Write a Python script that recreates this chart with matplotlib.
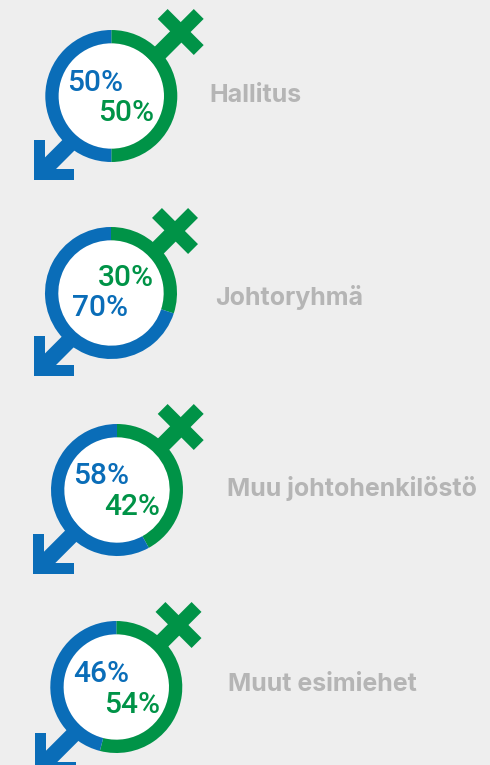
import matplotlib
matplotlib.use("Agg")
import matplotlib.pyplot as plt
from matplotlib.patches import Circle, Polygon

W, H = 490, 765

groups = ["Hallitus", "Johtoryhmä", "Muu johtohenkilöstö", "Muut esimiehet"]
women = [50, 30, 42, 54]
men = [50, 70, 58, 46]

BG = "#EEEEEE"
BLUE = "#0A6DB8"
GREEN = "#009347"
GREY = "#B5B5B5"

# layout in image pixels (y down)
centers = [(111.3, 96), (111, 293), (117, 490), (116.3, 687)]
cross_at = [(180.7, 32), (175, 231), (180.7, 427), (178.5, 625)]
arrow_at = [(33.7, 180), (33.7, 376), (33, 574), (35, 773)]
men_text = [(95, 83), (100, 308), (101.5, 476), (101.5, 674)]
women_text = [(126, 113), (125.5, 278), (132, 507), (132, 705)]
label_at = [(209, 95.5), (215.5, 297.5), (226.5, 488.5), (228, 684.5)]

RADIUS = 66
RING = 13.3
STEM = 16
ARM = 14
ARM_LEN = 25.5
HEAD_W = 11
HEAD_L = 40.5


def ypix(y):
    return H - y


def diag(x, y, dx, dy, half):
    # rectangle around a 45 degree segment, pixel coords
    nx, ny = half * 0.7071, half * 0.7071
    if dx * dy > 0:
        nx = -nx
    return [(x - nx, ypix(y - ny)), (x + nx, ypix(y + ny)),
            (x + dx + nx, ypix(y + dy + ny)), (x + dx - nx, ypix(y + dy - ny))]


def draw_female(ax, center, cross):
    cx, cy = cross
    L = ARM_LEN * 0.7071
    # stem down to the ring
    stem_len = cx - center[0] - 40
    ax.add_patch(Polygon(diag(cx, cy, -stem_len, stem_len, STEM / 2), color=GREEN, lw=0, zorder=1))
    ax.add_patch(Polygon(diag(cx - L, cy - L, 2 * L, 2 * L, ARM / 2), color=GREEN, lw=0, zorder=1))
    ax.add_patch(Polygon(diag(cx, cy, L, -L, ARM / 2), color=GREEN, lw=0, zorder=1))


def draw_male(ax, center, tip):
    tx, ty = tip
    stem_len = center[0] - tx - 44
    ax.add_patch(Polygon(diag(tx + 9, ty - 9, stem_len, -stem_len, STEM / 2), color=BLUE, lw=0, zorder=1))
    ax.add_patch(Polygon([(tx, ypix(ty)), (tx, ypix(ty - HEAD_L)), (tx + HEAD_W, ypix(ty - HEAD_L)),
                          (tx + HEAD_W, ypix(ty - HEAD_W)), (tx + HEAD_L, ypix(ty - HEAD_W)),
                          (tx + HEAD_L, ypix(ty))], color=BLUE, lw=0, zorder=1))


fig = plt.figure(figsize=(W / 100, H / 100), dpi=100, facecolor=BG)
ax = fig.add_axes([0, 0, 1, 1])
ax.set_facecolor(BG)

for i, name in enumerate(groups):
    cx, cy = centers[i]
    draw_female(ax, centers[i], cross_at[i])
    draw_male(ax, centers[i], arrow_at[i])

    ax.add_patch(Circle((cx, ypix(cy)), RADIUS - RING, color="white", lw=0, zorder=2))
    wedges, _ = ax.pie([women[i], men[i]], colors=[GREEN, BLUE], center=(cx, ypix(cy)), radius=RADIUS,
                       startangle=90, counterclock=False,
                       wedgeprops={"width": RING, "linewidth": 0})
    for w in wedges:
        w.set_zorder(3)

    ax.text(men_text[i][0], ypix(men_text[i][1]), f"{men[i]}%", color=BLUE, family="Roboto",
            fontsize=21.5, fontweight="medium", ha="center", va="center", zorder=4)
    ax.text(women_text[i][0], ypix(women_text[i][1]), f"{women[i]}%", color=GREEN, family="Roboto",
            fontsize=21.5, fontweight="medium", ha="center", va="center", zorder=4)
    ax.text(label_at[i][0], ypix(label_at[i][1]), name, color=GREY, family="Inter",
            fontsize=18, fontweight="bold", ha="left", va="center", zorder=4)

ax.set_xlim(0, W)
ax.set_ylim(0, H)
ax.set_aspect("equal")
ax.axis("off")

fig.savefig("out.png", dpi=100, facecolor=BG)
